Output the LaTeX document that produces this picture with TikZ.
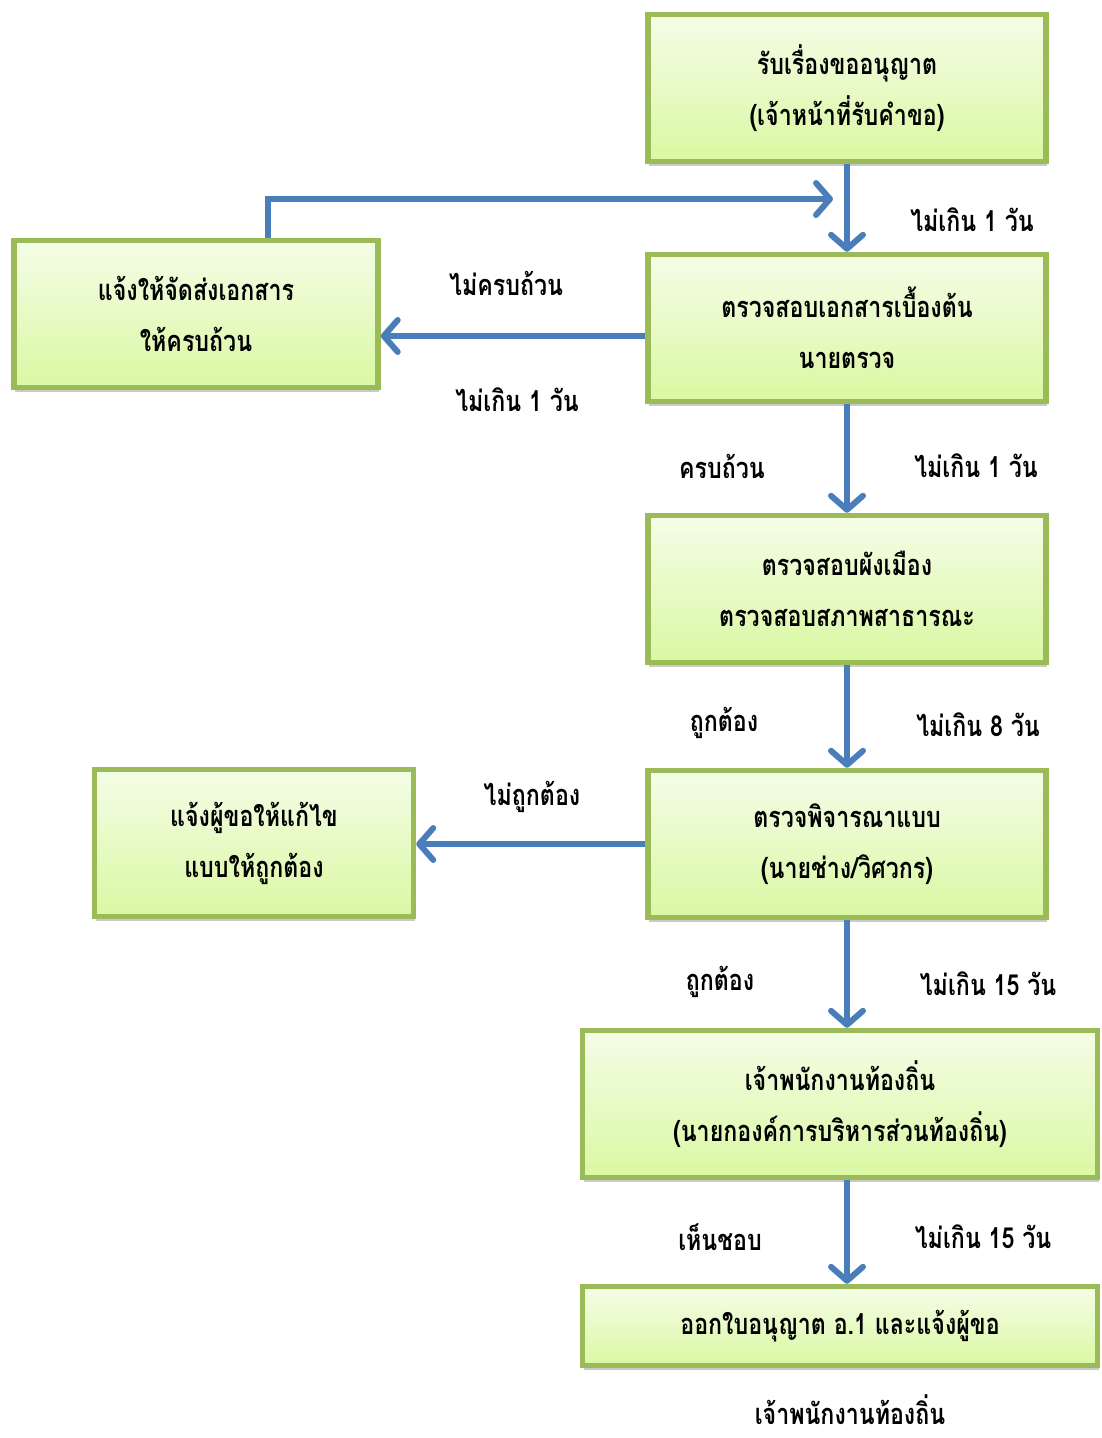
\documentclass[tikz,border=0pt]{standalone}
\usepackage{fontspec}
\newfontfamily\thaifont[Script=Thai,FakeStretch=0.8]{Loma}
\usetikzlibrary{arrows.meta,shadows}

\definecolor{boxline}{HTML}{9BBB59}
\definecolor{boxtop}{HTML}{F4FDE8}
\definecolor{boxbottom}{HTML}{DAF8A2}
\definecolor{flowblue}{HTML}{4A7EBB}

\begin{document}
\begin{tikzpicture}
        [x=1pt, y=-1pt,
        stepbox/.style={rectangle, draw=boxline, line width=5.5pt,
            top color=boxtop, bottom color=boxbottom, align=center,
            minimum width=398pt, minimum height=147pt, inner sep=0pt,
            font=\thaifont\bfseries\fontsize{29}{51}\selectfont,
            drop shadow={shadow xshift=1pt, shadow yshift=-4pt, opacity=0.35, fill=black!60}},
        flow/.style={draw=flowblue, line width=6pt,
            -{Straight Barb[length=14pt, width=32pt, round]}},
        lbl/.style={font=\thaifont\bfseries\fontsize{29}{34}\selectfont, inner sep=0pt}]

        \useasboundingbox (0,0) rectangle (1102,1438);

        % right column
        \node[stepbox] (req) at (847,88) {รับเรื่องขออนุญาต\\(เจ้าหน้าที่รับคำขอ)};
        \node[stepbox] (doc) at (847,328) {ตรวจสอบเอกสารเบื้องต้น\\นายตรวจ};
        \node[stepbox] (plan) at (847,589) {ตรวจสอบผังเมือง\\ตรวจสอบสภาพสาธารณะ};
        \node[stepbox] (design) at (847,844) {ตรวจพิจารณาแบบ\\(นายช่าง/วิศวกร)};
        \node[stepbox, minimum width=515pt] (officer) at (840,1104) {เจ้าพนักงานท้องถิ่น\\(นายกองค์การบริหารส่วนท้องถิ่น)};
        \node[stepbox, minimum width=515pt, minimum height=79pt] (permit) at (840,1326) {ออกใบอนุญาต อ.1 และแจ้งผู้ขอ};

        % left column
        \node[stepbox, minimum width=364pt] (resend) at (196,314) {แจ้งให้จัดส่งเอกสาร\\ให้ครบถ้วน};
        \node[stepbox, minimum width=319pt] (fix) at (254,843) {แจ้งผู้ขอให้แก้ไข\\แบบให้ถูกต้อง};

        \draw[flow] (req) -- (doc);
        \draw[flow] ([yshift=-8pt]doc.west) -- ([yshift=-8pt]doc.west -| resend.east);
        \draw[flow] (doc) -- (plan);
        \draw[flow] (plan) -- (design);
        \draw[flow] (design.west) -- (design.west -| fix.east);
        \draw[flow] (design.south) -- (design.south |- officer.north);
        \draw[flow] (design.south |- officer.south) -- (design.south |- permit.north);

        % loop back from resend to the first arrow
        \coordinate (back) at (833,199);
        \draw[flow] ([xshift=72pt]resend.north) |- (back);

        \node[lbl] (t1) at (972,220) {ไม่เกิน 1 วัน};
        \node[lbl] (t2) at (506,283) {ไม่ครบถ้วน};
        \node[lbl] (t3) at (517,400) {ไม่เกิน 1 วัน};
        \node[lbl] (t4) at (722,466) {ครบถ้วน};
        \node[lbl] (t5) at (976,466) {ไม่เกิน 1 วัน};
        \node[lbl] (t6) at (724,723) {ถูกต้อง};
        \node[lbl] (t7) at (978,725) {ไม่เกิน 8 วัน};
        \node[lbl] (t8) at (532,797) {ไม่ถูกต้อง};
        \node[lbl] (t9) at (720,982) {ถูกต้อง};
        \node[lbl] (t10) at (988,984) {ไม่เกิน 15 วัน};
        \node[lbl] (t11) at (720,1237) {เห็นชอบ};
        \node[lbl] (t12) at (983,1237) {ไม่เกิน 15 วัน};

        \node[lbl] (sign) at (850,1410) {เจ้าพนักงานท้องถิ่น};
    \end{tikzpicture}
\end{document}
